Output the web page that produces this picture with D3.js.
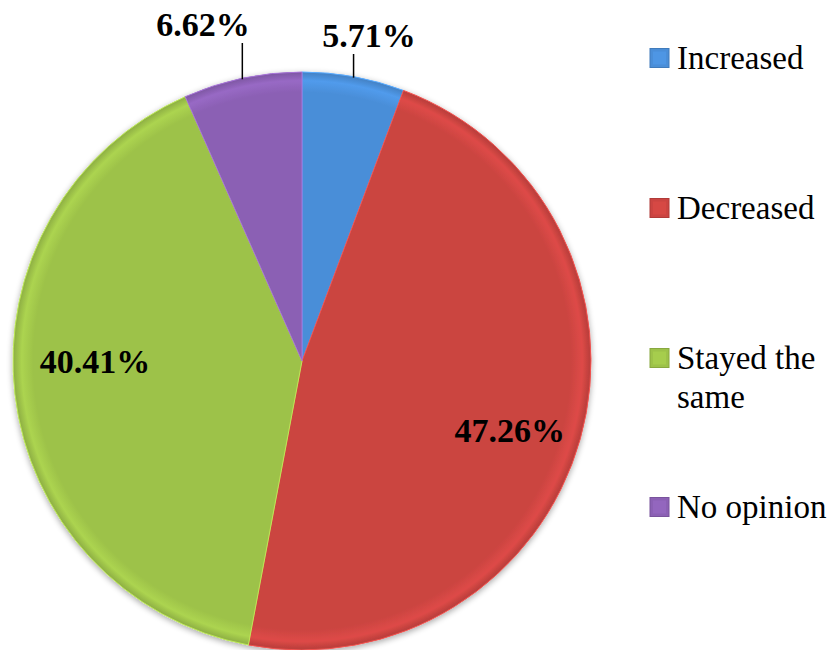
<!DOCTYPE html>
<html><head><meta charset="utf-8">
<script src="https://cdn.jsdelivr.net/npm/d3@7"></script>
</head><body>
<script>
const categories = ["Increased", "Decreased", "Stayed the same", "No opinion"];
const values = [5.71, 47.26, 40.41, 6.62];
const labels = ["5.71%", "47.26%", "40.41%", "6.62%"];
const colors = ["#4A8ED8", "#CB4441", "#9DC249", "#8B60B4"];
const FONT = '"Times New Roman"';

d3.select("body").style("margin", "0").style("background", "#fff");
const W = 837, H = 650, cx = 302, cy = 361, R = 289;
const svg = d3.select("body").append("svg").attr("width", W).attr("height", H).style("display", "block");
const defs = svg.append("defs");

const f = defs.append("filter").attr("id", "sh").attr("x", "-10%").attr("y", "-10%").attr("width", "120%").attr("height", "120%");
f.append("feGaussianBlur").attr("in", "SourceAlpha").attr("stdDeviation", 3);
f.append("feOffset").attr("dx", 0).attr("dy", 2).attr("result", "b");
f.append("feComponentTransfer").append("feFuncA").attr("type", "linear").attr("slope", 0.35);
const m = f.append("feMerge"); m.append("feMergeNode"); m.append("feMergeNode").attr("in", "SourceGraphic");

colors.forEach((c, i) => {
  const g = defs.append("radialGradient").attr("id", "g" + i).attr("gradientUnits", "userSpaceOnUse")
    .attr("cx", 0).attr("cy", 0).attr("r", R);
  const base = d3.color(c);
  g.append("stop").attr("offset", "0%").attr("stop-color", base);
  g.append("stop").attr("offset", "93%").attr("stop-color", base);
  g.append("stop").attr("offset", "97%").attr("stop-color", base.brighter(0.25));
  g.append("stop").attr("offset", "100%").attr("stop-color", base.darker(0.3));
});

const pie = d3.pie().sort(null).value(d => d)(values);
const arc = d3.arc().innerRadius(0).outerRadius(R);
const gp = svg.append("g").attr("transform", `translate(${cx},${cy})`).attr("filter", "url(#sh)");
gp.selectAll("path").data(pie).join("path")
  .attr("d", arc)
  .attr("fill", (d, i) => `url(#g${i})`)
  .attr("stroke", (d, i) => d3.color(colors[i]).brighter(0.5))
  .attr("stroke-width", 1);

// label layout: inside labels by radius/angle offset, outside labels with leader lines
const labelLayout = [
  {type: "out", lineTop: 54, tx: 369, ty: 47},
  {type: "in", r: 219, da: 2.8},
  {type: "in", r: 207, da: 6.5},
  {type: "out", lineTop: 43, tx: 203, ty: 36}
];
const gl = svg.append("g");
pie.forEach((d, i) => {
  const L = labelLayout[i];
  const mid = (d.startAngle + d.endAngle) / 2;
  let t;
  if (L.type === "in") {
    const a = mid + L.da * Math.PI / 180;
    const x = cx + L.r * Math.sin(a), y = cy - L.r * Math.cos(a);
    t = gl.append("text").attr("x", x).attr("y", y).attr("dy", "0.35em");
  } else {
    const ex = cx + R * Math.sin(mid), ey = cy - R * Math.cos(mid);
    gl.append("line").attr("x1", ex).attr("y1", ey + 1).attr("x2", ex).attr("y2", L.lineTop)
      .attr("stroke", "#000").attr("stroke-width", 1.5);
    t = gl.append("text").attr("x", L.tx).attr("y", L.ty);
  }
  t.attr("text-anchor", "middle").attr("font-family", "Times New Roman").style("font-family", FONT)
    .attr("font-weight", "bold").attr("font-size", 34).attr("fill", "#000").text(labels[i]);
});

// legend
const legendY = [58, 208, 358, 507];
const lg = svg.append("g");
categories.forEach((c, i) => {
  const y = legendY[i];
  const base = d3.color(colors[i]);
  lg.append("rect").attr("x", 650).attr("y", y - 9.5).attr("width", 19).attr("height", 19)
    .attr("fill", base).attr("stroke", base.darker(0.4)).attr("stroke-width", 1);
  lg.append("rect").attr("x", 653).attr("y", y - 6.5).attr("width", 13).attr("height", 13)
    .attr("fill", base.brighter(0.3)).attr("opacity", 0.5);
  const words = c === "Stayed the same" ? ["Stayed the", "same"] : [c];
  const t = lg.append("text").attr("font-family", "Times New Roman").style("font-family", FONT).attr("font-size", 33).attr("fill", "#000");
  words.forEach((w, j) => {
    t.append("tspan").attr("x", 677).attr("y", y + 11 + j * 39).text(w);
  });
});
</script>
</body></html>
